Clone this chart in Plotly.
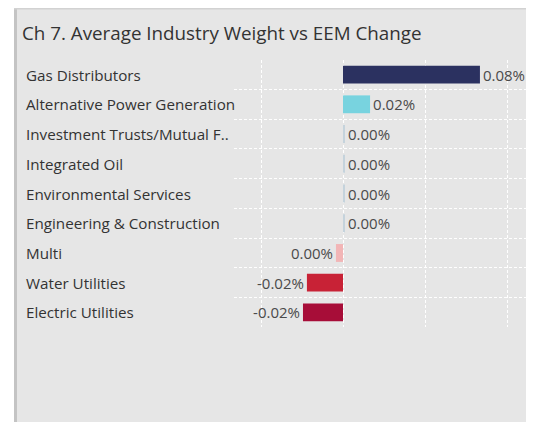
import plotly.graph_objects as go

categories = ["Gas Distributors", "Alternative Power Generation", "Investment Trusts/Mutual F..",
              "Integrated Oil", "Environmental Services", "Engineering & Construction",
              "Multi", "Water Utilities", "Electric Utilities"]
values = [0.0835, 0.0165, 0.001, 0.001, 0.001, 0.001, -0.0043, -0.022, -0.0244]
labels = ["0.08%", "0.02%", "0.00%", "0.00%", "0.00%", "0.00%", "0.00%", "-0.02%", "-0.02%"]
colors = ["#2b3160", "#78d3df", "#c5d3dc", "#c5d3dc", "#c5d3dc", "#c5d3dc",
          "#f2b5b6", "#c82236", "#a70d38"]
x_ticks = [-0.05, 0, 0.05, 0.1]

OFF = 8  # page body margin
W, H = 534 - OFF, 422 - OFF
L, R, T = 234 - OFF, 0, 60 - OFF
B = H - (327 - OFF)
pw, ph = W - L - R, H - T - B

def px_x(p):  # p in page pixels
    return (p - OFF - L) / pw

def px_y(p):
    return (H - B - (p - OFF)) / ph

FONT = "Open Sans"

fig = go.Figure(go.Bar(
    y=categories, x=values, orientation="h",
    marker=dict(color=colors, line=dict(width=0)),
    text=labels, textposition="outside", cliponaxis=False, constraintext="none",
    textfont=dict(family=FONT, size=15, color="#4a4a4a"),
    width=0.6,
))

shapes = [
    dict(type="rect", xref="paper", yref="paper", x0=px_x(0), x1=px_x(14), y0=px_y(430), y1=px_y(0),
         fillcolor="white", line=dict(width=0), layer="below"),
    dict(type="rect", xref="paper", yref="paper", x0=px_x(0), x1=px_x(540), y0=px_y(7), y1=px_y(0),
         fillcolor="white", line=dict(width=0), layer="below"),
    dict(type="rect", xref="paper", yref="paper", x0=px_x(14), x1=px_x(17), y0=px_y(430), y1=px_y(8),
         fillcolor="#c4c4c4", line=dict(width=0), layer="below"),
    dict(type="rect", xref="paper", yref="paper", x0=px_x(14), x1=px_x(540), y0=px_y(9.5), y1=px_y(8),
         fillcolor="#d2d2d2", line=dict(width=0), layer="below"),
]

annotations = [
    dict(text=c, x=px_x(24), xref="paper", y=c, yref="y", xanchor="left", yanchor="middle",
         showarrow=False, font=dict(family=FONT, size=15.2, color="#333333"))
    for c in categories
]
annotations.append(dict(text="Ch 7. Average Industry Weight vs EEM Change", x=px_x(20), xref="paper",
                        y=px_y(33), yref="paper", xanchor="left", yanchor="middle", showarrow=False,
                        font=dict(family=FONT, size=18.8, color="#333333")))

x_lo = -0.05 - 27 / 1640
x_hi = (534 - 343) / 1640

fig.update_layout(
    width=W, height=H,
    margin=dict(l=L, r=R, t=T, b=B),
    paper_bgcolor="#e6e6e6", plot_bgcolor="#e6e6e6",
    showlegend=False,
    shapes=shapes, annotations=annotations,
    xaxis=dict(range=[x_lo, x_hi], tickvals=x_ticks,
               showticklabels=False, showgrid=True, gridcolor="white", griddash="3px,2px",
               gridwidth=1, zeroline=False, showline=False, fixedrange=True),
    yaxis=dict(type="category", categoryorder="array", categoryarray=categories,
               range=[8.49, -0.49], tickson="boundaries", showticklabels=False, ticks="",
               showgrid=True, gridcolor="white", griddash="3px,2px", gridwidth=1,
               zeroline=False, showline=False, fixedrange=True),
)

fig.write_html("out.html", config={"displayModeBar": False})
